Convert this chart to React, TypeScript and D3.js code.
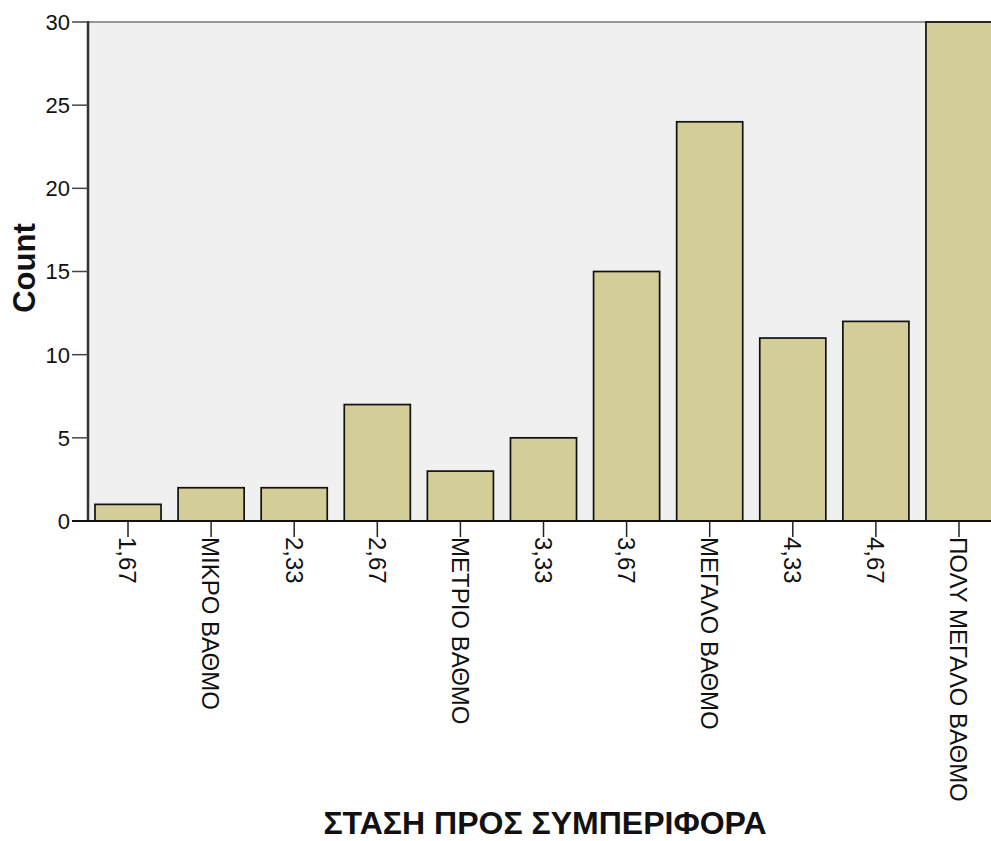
import React from "react";
import * as d3 from "d3";

const categories = ["1,67", "ΜΙΚΡΟ ΒΑΘΜΟ", "2,33", "2,67", "ΜΕΤΡΙΟ ΒΑΘΜΟ", "3,33", "3,67", "ΜΕΓΑΛΟ ΒΑΘΜΟ", "4,33", "4,67", "ΠΟΛΥ ΜΕΓΑΛΟ ΒΑΘΜΟ"];
const counts = [1, 2, 2, 7, 3, 5, 15, 24, 11, 12, 30];
const yTicks = [0, 5, 10, 15, 20, 25, 30];
const xTitle = "ΣΤΑΣΗ ΠΡΟΣ ΣΥΜΠΕΡΙΦΟΡΑ";
const yTitle = "Count";

const W = 991;
const H = 841;
const left = 88;
const right = 999;
const top = 22;
const bottom = 521;
const font = "Arial, 'Liberation Sans', sans-serif";

export default function App() {
  const x = d3
    .scaleBand<string>()
    .domain(categories)
    .range([left, right])
    .paddingInner(0.205)
    .paddingOuter(0.084);
  const y = d3.scaleLinear().domain([0, 30]).range([bottom, top]);

  return (
    <svg
      width={W}
      height={H}
      style={{ position: "absolute", left: 0, top: 0, background: "#fff" }}
      fontFamily={font}
    >
      <rect x={left} y={top} width={right - left} height={bottom - top} fill="#f0f0f0" />
      <line x1={left} x2={right} y1={top} y2={top} stroke="#777" strokeWidth={1.5} />
      {categories.map((c, i) => (
        <rect
          key={c}
          x={x(c)!}
          y={y(counts[i])}
          width={x.bandwidth()}
          height={bottom - y(counts[i])}
          fill="#d3ce98"
          stroke="#111"
          strokeWidth={1.7}
        />
      ))}
      {/* y axis */}
      <line x1={left} x2={left} y1={top - 1} y2={bottom} stroke="#333" strokeWidth={2.5} />
      {yTicks.map((t) => (
        <g key={t}>
          <line x1={72} x2={left} y1={y(t)} y2={y(t)} stroke="#444" strokeWidth={1.5} />
          <text x={70} y={y(t)} dy="0.36em" textAnchor="end" fontSize={22} fill="#111">
            {t}
          </text>
        </g>
      ))}
      {/* x axis */}
      <line x1={left - 16} x2={right} y1={bottom} y2={bottom} stroke="#111" strokeWidth={2} />
      {categories.map((c) => {
        const cx = x(c)! + x.bandwidth() / 2;
        return (
          <g key={c}>
            <line x1={cx} x2={cx} y1={bottom} y2={bottom + 16} stroke="#222" strokeWidth={1.5} />
            <text
              transform={`translate(${cx},${bottom + 16}) rotate(90)`}
              dy="0.36em"
              textAnchor="start"
              fontSize={24}
              fill="#111"
            >
              {c}
            </text>
          </g>
        );
      })}
      <text
        transform={`translate(35,268) rotate(-90)`}
        textAnchor="middle"
        fontSize={31}
        fontWeight="bold"
        fill="#111"
      >
        {yTitle}
      </text>
      <text x={545} y={834} textAnchor="middle" fontSize={32} fontWeight="bold" fill="#111">
        {xTitle}
      </text>
    </svg>
  );
}
